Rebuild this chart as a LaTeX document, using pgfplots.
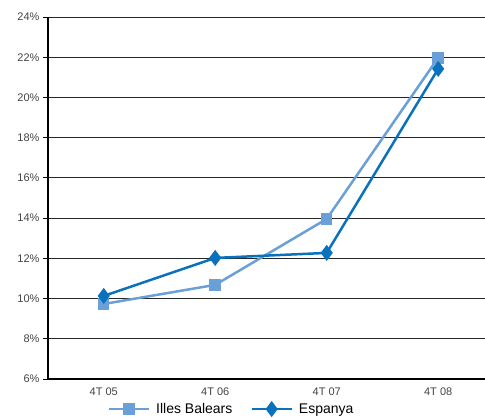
\documentclass[border=0pt]{standalone}
\usepackage{pgfplots}
\pgfplotsset{compat=1.18}
\usepackage{fontspec}
\setmainfont{Liberation Sans}
\definecolor{ib}{HTML}{6A9FD8}
\definecolor{es}{HTML}{0A72BC}
\definecolor{tk}{HTML}{444444}
\begin{document}
\begin{tikzpicture}[x=1pt,y=1pt]
\useasboundingbox (0,0) rectangle (485,418);
\begin{axis}[
  at={(48pt,39pt)}, anchor=south west,
  scale only axis, width=437pt, height=362pt,
  xmin=-0.5, xmax=3.42, ymin=6, ymax=24,
  axis x line*=bottom, axis y line*=left,
  axis line style={black, line width=1.2pt},
  x axis line style={-}, y axis line style={-},
  xtick={0,1,2,3}, xticklabels={4T 05,4T 06,4T 07,4T 08},
  extra x ticks={-0.5,0.5,1.5,2.5}, extra x tick labels={},
  extra x tick style={major tick length=6pt, tick style={black, line width=1pt}},
  major x tick style={draw=none},
  ytick={6,8,...,24},
  yticklabel={\pgfmathprintnumber{\tick}\%},
  tick align=outside, major tick length=5pt,
  tick style={black, line width=0.8pt},
  ymajorgrids, grid style={black!85, line width=0.8pt},
  ticklabel style={font=\fontsize{11}{13}\selectfont, text=tk},
  /pgf/number format/assume math mode=true,
  clip=false,
  legend style={at={(0.42,-0.083)}, anchor=center, draw=none, fill=none,
    font=\fontsize{14}{16}\selectfont, legend columns=2,
    /tikz/every odd column/.append style={column sep=4pt},
    /tikz/every even column/.append style={column sep=16pt}},
  legend image code/.code={\draw[#1] (0pt,0pt) -- (40pt,0pt); \draw[#1, mark repeat=2, mark phase=2] plot coordinates {(0pt,0pt) (20pt,0pt) (40pt,0pt)};},
]
\addplot[ib, line width=2.5pt, mark=square*, mark size=4.5pt, mark options={solid}]
  coordinates {(0,9.73) (1,10.68) (2,13.96) (3,21.97)};
\addlegendentry{Illes Balears}
\addplot[es, line width=2.5pt, mark=diamond*, mark size=6pt, mark options={solid}]
  coordinates {(0,10.13) (1,12.02) (2,12.27) (3,21.42)};
\addlegendentry{Espanya}
\end{axis}
\end{tikzpicture}
\end{document}
